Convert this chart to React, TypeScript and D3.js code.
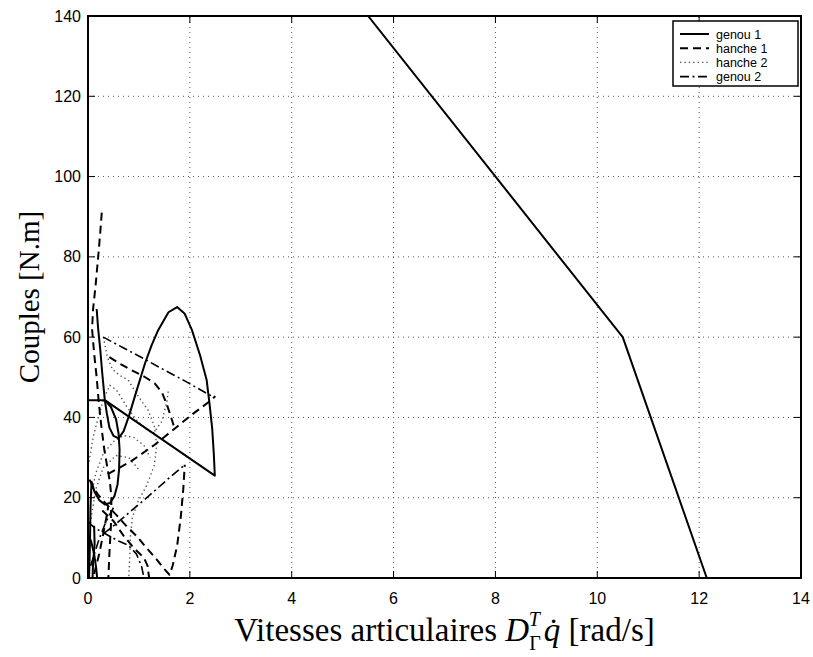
import React, { useEffect } from "react";
import * as d3 from "d3";

type P = [number, number];

// ---- axis / ticks ----
const xTicks = [0, 2, 4, 6, 8, 10, 12, 14];
const yTicks = [0, 20, 40, 60, 80, 100, 120, 140];
const xDomain: P = [0, 14];
const yDomain: P = [0, 140];

// ---- genou 1 (solid) ----
const genou1Limit: P[] = [[0, 140], [5.5, 140], [10.5, 60], [12.15, 0]];
const genou1Main: P[] = [
  [0, 44.3], [0.33, 44.3], [2.49, 25.5], [2.47, 31], [2.44, 37], [2.39, 43], [2.33, 49.3],
  [2.2, 55.5], [2.04, 61.8], [1.9, 65.8], [1.75, 67.5], [1.58, 66.2], [1.38, 61.8],
  [1.25, 58], [1.12, 53.5], [0.95, 46.5], [0.8, 40.2], [0.7, 36.6], [0.6, 34.8],
  [0.5, 35.4], [0.42, 37.5], [0.37, 41], [0.33, 44.3], [0.28, 51], [0.24, 57],
  [0.2, 62], [0.17, 67],
];
const genou1Lower: P[] = [
  [0.33, 44.3], [0.45, 42.6], [0.55, 39.6], [0.6, 36], [0.62, 32], [0.61, 27], [0.58, 23.3],
  [0.52, 20.4], [0.43, 18.7], [0.33, 18.3], [0.22, 19.4], [0.13, 21.4], [0.07, 24],
  [0.05, 18], [0.04, 10], [0.03, 4], [0.02, 0],
];
const genou1Base: P[] = [[0, 10.8], [0.06, 9.2], [0.12, 6], [0.16, 2.5], [0.18, 0]];
const genou1Base2: P[] = [[0.09, 0], [0.1, 4], [0.13, 8.5], [0.12, 13]];

// ---- hanche 1 (dashed) ----
const hanche1Tall: P[] = [
  [0.27, 91], [0.24, 86], [0.2, 80], [0.15, 73], [0.1, 67], [0.08, 62], [0.12, 56],
  [0.17, 50], [0.21, 44], [0.26, 38], [0.32, 32], [0.38, 27.5], [0.43, 24], [0.46, 20],
  [0.45, 13], [0.42, 6], [0.4, 0],
];
const hanche1Upper: P[] = [
  [0.42, 55], [0.65, 53.2], [0.85, 51.8], [1.1, 50.2], [1.31, 48.5], [1.45, 46.3],
  [1.54, 43.5], [1.62, 40.5], [1.67, 38.5], [1.7, 37.2],
];
const hanche1Cross: P[] = [
  [0.39, 25.9], [0.85, 29.1], [1.31, 33.2], [1.7, 37.2], [2.05, 40.8], [2.42, 44.3], [2.5, 45.3],
];
const hanche1Vee: P[] = [
  [0.03, 24.5], [0.1, 22.6], [0.2, 20.7], [0.35, 18.5], [0.55, 15.8], [0.75, 13],
  [0.95, 10.5], [1.15, 7.5], [1.35, 4.6], [1.5, 2.2], [1.6, 0.8], [1.66, 3], [1.75, 8],
  [1.82, 15], [1.87, 22], [1.9, 28.2],
];
const hanche1Low: P[] = [
  [0.28, 16.8], [0.5, 14.2], [0.7, 10.5], [0.9, 7.5], [1.1, 5], [1.17, 3], [1.2, 0],
];
const hanche1Cluster: P[] = [[0.12, 1], [0.22, 6], [0.3, 11], [0.36, 15], [0.4, 18]];

// ---- hanche 2 (dotted) ----
const hanche2A: P[] = [
  [0.3, 60], [0.38, 55], [0.48, 52], [0.62, 50.5], [0.79, 49.3], [0.99, 45.2],
  [1.18, 41.8], [1.3, 38], [1.35, 33], [1.3, 28], [1.15, 23], [0.98, 19], [0.87, 15],
  [0.83, 10], [0.82, 5], [0.8, 0],
];
const hanche2B: P[] = [
  [0.02, 29], [0.1, 35], [0.2, 40], [0.32, 45], [0.43, 48], [0.56, 46.8], [0.76, 42.7],
  [0.95, 39.4], [1.15, 37], [1.28, 36], [1.45, 39], [1.55, 44], [1.58, 47],
];
const hanche2C: P[] = [
  [0.05, 20], [0.15, 26], [0.3, 31], [0.5, 34], [0.7, 35.5], [0.9, 35], [1.1, 33], [1.22, 30],
];
const hanche2D: P[] = [
  [0, 6], [0.05, 14], [0.15, 22], [0.3, 27.5], [0.55, 30.5], [0.8, 30], [1.0, 27],
];

// ---- genou 2 (dash-dot) ----
const genou2A: P[] = [[0.3, 60], [0.7, 57.3], [1.1, 54.6], [1.5, 51.8], [1.9, 49.1], [2.33, 46], [2.45, 45.2]];
const genou2D: P[] = [[0.3, 11], [0.55, 13.5], [0.79, 16.1], [1.2, 20.5], [1.6, 25], [1.9, 28.2]];
const genou2Low: P[] = [[0, 14], [0.14, 12.4], [0.4, 10.6], [0.6, 9.2], [0.79, 8.2], [0.95, 6], [1.05, 3], [1.1, 0]];
const genou2Cluster: P[] = [[0.05, 3], [0.2, 9], [0.35, 14], [0.5, 17.5]];

const legendNames = ["genou 1", "hanche 1", "hanche 2", "genou 2"];

const L = 88, R = 801, T = 16, B = 578;

const styles: Record<string, { stroke: string; width: number; dash: string }> = {
  "genou 1": { stroke: "#000", width: 2, dash: "" },
  "hanche 1": { stroke: "#000", width: 2, dash: "8,5" },
  "hanche 2": { stroke: "#555", width: 1.4, dash: "1.4,3" },
  "genou 2": { stroke: "#000", width: 1.6, dash: "9,3.5,2,3.5" },
};

const series: { name: string; paths: P[][] }[] = [
  { name: "hanche 2", paths: [hanche2A, hanche2B, hanche2C, hanche2D] },
  { name: "genou 2", paths: [genou2A, genou2D, genou2Low, genou2Cluster] },
  { name: "hanche 1", paths: [hanche1Tall, hanche1Upper, hanche1Cross, hanche1Vee, hanche1Low, hanche1Cluster] },
  { name: "genou 1", paths: [genou1Limit, genou1Main, genou1Lower, genou1Base, genou1Base2] },
];

export default function App() {
  useEffect(() => {
    document.body.style.margin = "0";
  }, []);
  const x = d3.scaleLinear().domain(xDomain).range([L, R]);
  const y = d3.scaleLinear().domain(yDomain).range([B, T]);
  const line = d3.line<P>().x((d) => x(d[0])).y((d) => y(d[1]));
  const tickFont = "'Liberation Sans', Arial, Helvetica, sans-serif";
  const serif = "'Liberation Serif', 'DejaVu Serif', serif";
  const lgX = 673, lgY = 21, lgW = 125, lgH = 65;

  return (
    <svg width={813} height={657} style={{ position: "absolute", left: 0, top: 0, background: "#fff" }}>
      <defs>
        <clipPath id="plot">
          <rect x={L} y={T} width={R - L} height={B - T} />
        </clipPath>
      </defs>
      <rect x={0} y={0} width={813} height={657} fill="#fff" />
      {/* grid */}
      <g stroke="#555" strokeWidth={1} strokeDasharray="1,4">
        {xTicks.slice(1, -1).map((t) => (
          <line key={"gx" + t} x1={x(t)} x2={x(t)} y1={B} y2={T} />
        ))}
        {yTicks.slice(1, -1).map((t) => (
          <line key={"gy" + t} x1={L} x2={R} y1={y(t)} y2={y(t)} />
        ))}
      </g>
      {/* ticks inward */}
      <g stroke="#000" strokeWidth={1}>
        {xTicks.map((t) => (
          <g key={"tx" + t}>
            <line x1={x(t)} x2={x(t)} y1={B} y2={B - 7} />
            <line x1={x(t)} x2={x(t)} y1={T} y2={T + 7} />
          </g>
        ))}
        {yTicks.map((t) => (
          <g key={"ty" + t}>
            <line x1={L} x2={L + 7} y1={y(t)} y2={y(t)} />
            <line x1={R} x2={R - 7} y1={y(t)} y2={y(t)} />
          </g>
        ))}
      </g>
      {/* series */}
      <g clipPath="url(#plot)" fill="none" strokeLinejoin="round">
        {series.map((s) =>
          s.paths.map((p, i) => (
            <path
              key={s.name + i}
              d={line(p) || ""}
              stroke={styles[s.name].stroke}
              strokeWidth={styles[s.name].width}
              strokeDasharray={styles[s.name].dash || undefined}
            />
          ))
        )}
      </g>
      {/* frame */}
      <rect x={L} y={T} width={R - L} height={B - T} fill="none" stroke="#000" strokeWidth={2} />
      {/* tick labels */}
      <g fontFamily={tickFont} fontSize={16} fill="#000">
        {xTicks.map((t) => (
          <text key={"lx" + t} x={x(t)} y={B + 26} textAnchor="middle">
            {t}
          </text>
        ))}
        {yTicks.map((t) => (
          <text key={"ly" + t} x={L - 7} y={y(t) + 5.5} textAnchor="end">
            {t}
          </text>
        ))}
      </g>
      {/* legend */}
      <rect x={lgX} y={lgY} width={lgW} height={lgH} fill="#fff" stroke="#000" strokeWidth={1.5} />
      {legendNames.map((n, i) => {
        const yy = lgY + 13 + i * 14.2;
        const st = styles[n];
        return (
          <g key={n}>
            <line x1={lgX + 7} x2={lgX + 36} y1={yy} y2={yy} stroke={st.stroke} strokeWidth={st.width} strokeDasharray={st.dash || undefined} />
            <text x={lgX + 43} y={yy + 4.5} fontFamily={tickFont} fontSize={12.5}>
              {n}
            </text>
          </g>
        );
      })}
      {/* axis labels */}
      <text x={(L + R) / 2} y={641} textAnchor="middle" fontFamily={serif} fontSize={33}>
        Vitesses articulaires{" "}
        <tspan fontStyle="italic">D</tspan>
        <tspan dy={9} fontSize={20}>Γ</tspan>
        <tspan dx={-12} dy={-24} fontSize={20} fontStyle="italic">T</tspan>
        <tspan dx={4} dy={15} fontStyle="italic">q̇</tspan> [rad/s]
      </text>
      <text
        transform={`translate(39, ${(T + B) / 2}) rotate(-90)`}
        textAnchor="middle"
        fontFamily={serif}
        fontSize={29}
      >
        Couples [N.m]
      </text>
    </svg>
  );
}
